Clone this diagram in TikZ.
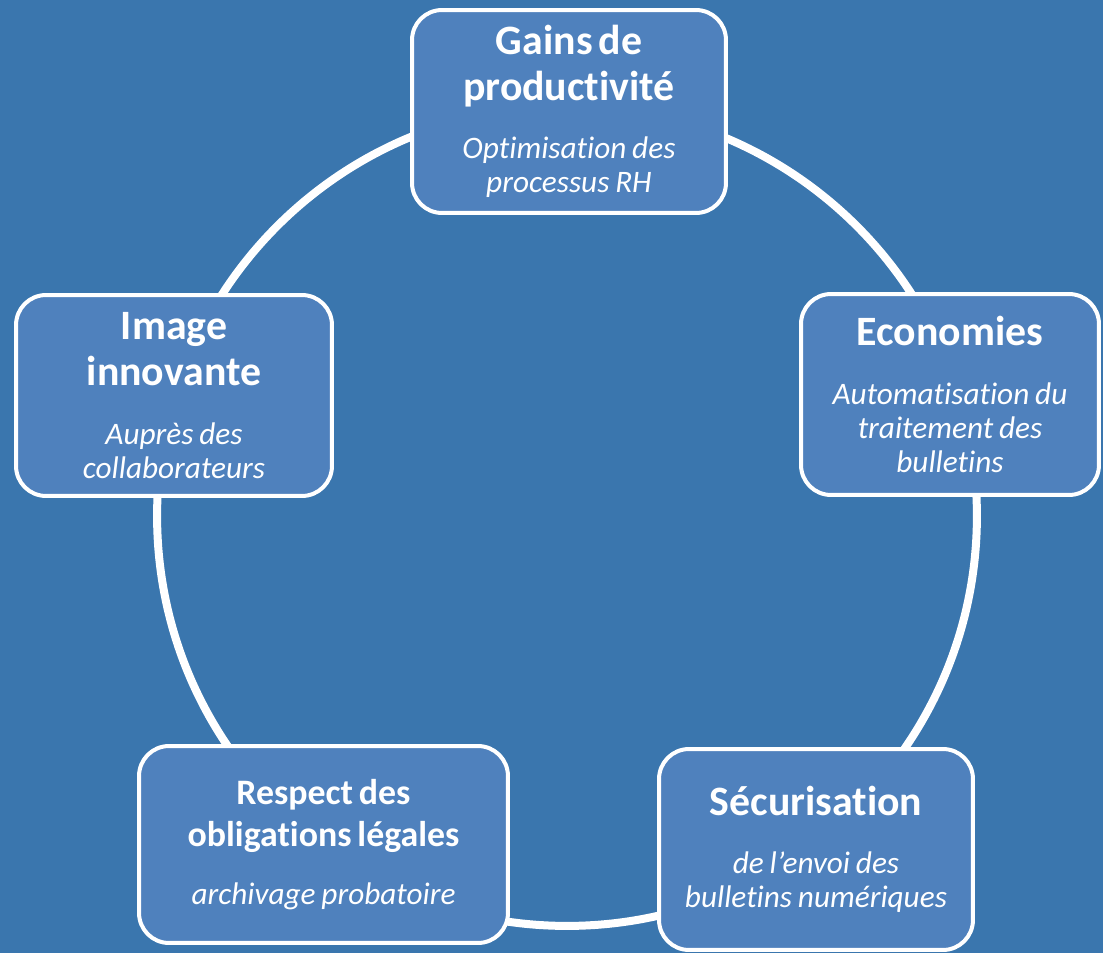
\documentclass[tikz,border=0pt]{standalone}
\usepackage{fontspec}
\setmainfont{Carlito}[Ligatures=NoCommon]
\definecolor{bgblue}{RGB}{58,118,174}
\definecolor{boxblue}{RGB}{79,129,189}
\newcommand{\ttlfont}{\fontsize{23.8pt}{26.1pt}\selectfont\bfseries\upshape}
\newcommand{\ttlsmall}{\fontsize{20.4pt}{23.8pt}\selectfont\bfseries\upshape}
\newcommand{\subfont}{\fontsize{17.8pt}{19.3pt}\selectfont\mdseries\itshape}
\newcommand{\tgap}{\vspace{14pt}}
\begin{document}
\begin{tikzpicture}[x=0.02cm,y=-0.02cm,
  cyclebox/.style={draw=white, line width=0.08cm, fill=boxblue, rounded corners=0.6cm,
    text=white, align=center, inner xsep=0pt, inner ysep=2pt},
  ring/.style={draw=white, line width=0.16cm}]
\useasboundingbox (0,0) rectangle (1103,953);
\fill[bgblue] (0,0) rectangle (1103,953);
\coordinate (c) at (567,516);
\draw[ring] (c) circle[radius=8.2cm];
\node[cyclebox, minimum width=6.28cm, minimum height=4.06cm, text width=5.8cm] (gains) at (569,111.5)
  {\ttlfont Gains de\\productivité\par\tgap\subfont Optimisation des\\processus RH\par};
\node[cyclebox, minimum width=5.96cm, minimum height=4.02cm, text width=5.6cm] (eco) at (950,394.5)
  {\ttlfont Economies\par\tgap\subfont Automatisation du\\traitement des\\bulletins\par};
\node[cyclebox, minimum width=6.28cm, minimum height=4.02cm, text width=5.8cm] (secu) at (816,849.5)
  {\ttlfont Sécurisation\par\tgap\subfont de l’envoi des\\bulletins numériques\par};
\node[cyclebox, minimum width=7.38cm, minimum height=3.94cm, text width=6.9cm] (legal) at (323.5,844.5)
  {\ttlsmall Respect des\\obligations légales\par\tgap\subfont archivage probatoire\par};
\node[cyclebox, minimum width=6.32cm, minimum height=4.02cm, text width=5.8cm] (image) at (174,395.5)
  {\ttlfont Image\\innovante\par\tgap\subfont Auprès des\\collaborateurs\par};
\end{tikzpicture}
\end{document}
